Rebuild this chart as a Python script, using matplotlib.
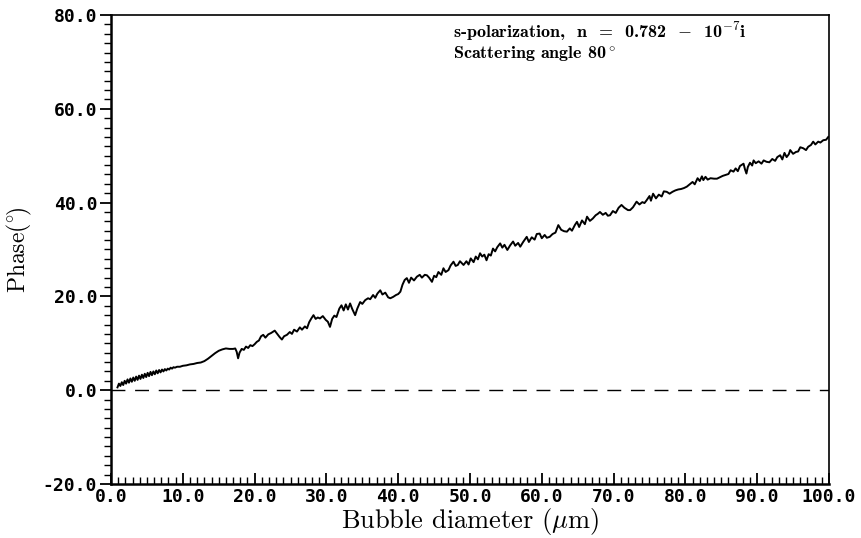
import numpy as np
import matplotlib
matplotlib.use('Agg')
import matplotlib.pyplot as plt
from matplotlib.ticker import MultipleLocator, FormatStrFormatter

# phase curve (bubble diameter in um, phase in degrees)
diameter = [
    0.9, 1.1, 1.3, 1.5, 1.7, 1.9, 2.1, 2.3, 2.5, 2.7, 2.9, 3.1, 3.3, 3.5, 3.7,
    3.9, 4.1, 4.3, 4.5, 4.7, 4.9, 5.1, 5.3, 5.5, 5.7, 5.9, 6.1, 6.3, 6.5, 6.7,
    6.9, 7.1, 7.3, 7.5, 7.7, 7.9, 8.1, 8.3, 8.5, 8.7, 8.9, 9.2, 9.6, 10.0,
    10.5, 11.0, 11.5, 12.0, 12.5, 13.0, 13.5, 14.0, 14.5, 15.0, 15.5, 16.0,
    16.5, 17.0, 17.3, 17.5, 17.7, 17.9, 18.2, 18.5, 18.8, 19.1, 19.4, 19.7,
    20.0, 20.3, 20.6, 20.9, 21.2,
    21.5, 21.9, 22.3, 22.8, 23.2, 23.5, 23.8, 24.1, 24.5, 24.9, 25.2, 25.5,
    25.9, 26.3, 26.6, 27.0, 27.3, 27.6, 27.9, 28.2, 28.5, 28.8, 29.1, 29.5,
    29.9, 30.2, 30.5, 30.8, 31.1, 31.4, 31.8, 32.1, 32.4, 32.7, 33.0, 33.3,
    33.6, 34.0, 34.3, 34.7, 35.0, 35.4, 35.8, 36.1, 36.5, 36.8, 37.1, 37.5,
    37.8, 38.2, 38.6, 38.9, 39.3, 39.7, 40.0, 40.3, 40.6, 40.9, 41.2, 41.5,
    41.8, 42.2, 42.6, 43.0, 43.3, 43.7, 44.0, 44.3, 44.7, 45.0, 45.3, 45.6,
    46.0, 46.3, 46.6, 47.0, 47.3, 47.7, 48.0, 48.3, 48.6, 49.1, 49.5, 49.8,
    50.1, 50.5, 50.8, 51.1, 51.4, 51.7, 52.0, 52.3, 52.6, 52.9, 53.2, 53.5,
    53.8, 54.2, 54.5, 54.8, 55.2, 55.6, 56.0, 56.3, 56.7, 57.0, 57.4, 57.9,
    58.2, 58.6, 59.0, 59.3, 59.7, 60.0, 60.4, 60.7, 61.1, 61.5, 61.9, 62.3,
    62.7, 63.1, 63.5, 63.9, 64.2, 64.6, 64.9, 65.2, 65.6, 66.0, 66.3, 66.7,
    67.1, 67.5, 67.8, 68.1, 68.5, 68.9, 69.2, 69.5, 69.9, 70.3, 70.7, 71.1,
    71.5, 72.0, 72.3,
    72.7, 73.2, 73.6, 74.0, 74.3, 74.6, 75.0, 75.2, 75.5, 75.9, 76.3, 76.7,
    77.0, 77.4, 77.8, 78.2, 78.6, 79.0, 79.4, 79.8, 80.2, 80.6, 81.0, 81.3,
    81.7, 82.0, 82.3, 82.5, 82.8, 83.1, 83.5, 84.0, 84.4, 84.8, 85.2, 85.6,
    86.0, 86.3, 86.7, 87.0, 87.3, 87.6, 88.1, 88.3, 88.5, 88.7, 89.0, 89.3,
    89.5, 89.8, 90.2, 90.6, 90.9, 91.3, 91.7, 92.1, 92.5, 92.8, 93.2, 93.5,
    93.8, 94.1, 94.4, 94.6, 95.0, 95.4, 95.7, 96.0, 96.4, 96.8, 97.1, 97.5,
    97.8, 98.1, 98.5, 98.8, 99.2, 99.6, 99.9,
]
phase = [
    0.6, 1.4, 0.9, 1.7, 1.1, 2.0, 1.4, 2.3, 1.6, 2.5, 1.8, 2.7, 2.0, 2.9, 2.2,
    3.1, 2.4, 3.3, 2.6, 3.5, 2.8, 3.7, 3.0, 3.9, 3.2, 4.0, 3.4, 4.2, 3.6, 4.3,
    3.8, 4.4, 4.0, 4.5, 4.2, 4.6, 4.4, 4.8, 4.6, 4.9, 4.8, 5.0, 5.0, 5.2,
    5.3, 5.5, 5.6, 5.8, 5.9, 6.2, 6.7, 7.3, 7.9, 8.4, 8.7, 8.9,
    8.8, 8.8, 8.9, 8.2, 6.8, 8.0, 8.8, 8.6, 9.3, 9.0, 9.6, 9.4,
    9.8, 10.3, 10.6, 11.5, 11.8,
    11.2, 11.9, 12.2, 12.7, 11.9, 11.3, 10.8, 11.5, 11.8, 12.4, 12.0, 12.9,
    12.5, 13.4, 12.9, 13.6, 13.2, 14.5, 15.3, 16.0, 15.2, 15.5, 15.3, 15.8,
    15.0, 14.6, 13.5, 15.2, 15.9, 15.6, 17.4, 18.1, 17.0, 18.3, 17.2, 18.5,
    17.3, 16.0, 17.4, 18.8, 18.4, 19.2, 19.6, 19.4, 20.3, 19.7, 20.6, 21.3,
    20.4, 20.8, 19.8, 19.6, 19.9, 20.3, 20.5, 21.0, 22.5, 23.5, 23.9, 22.9,
    24.0, 23.4, 24.2, 24.6, 24.0, 24.6, 24.5, 24.0, 23.1, 24.4, 24.1, 25.2,
    24.6, 26.0, 25.2, 25.6, 26.6, 27.4, 26.5, 26.7, 27.5, 26.7, 27.5, 26.8,
    28.1, 27.3, 28.5, 27.9, 29.2, 28.5, 28.9, 27.7, 29.0, 28.7, 30.2, 29.6,
    30.5, 31.3, 30.4, 31.0, 29.9, 30.9, 31.7, 30.8, 31.4, 30.6, 31.6, 32.7,
    31.6, 32.6, 32.1, 33.3, 33.4, 32.4, 33.1, 32.5, 32.7, 33.3, 33.6, 35.2,
    34.2, 33.9, 33.8, 34.5, 34.0, 35.2, 35.9, 34.8, 36.2, 35.4, 37.0, 36.1,
    36.6, 37.3, 37.6, 38.0, 37.4, 37.8, 37.2, 37.3, 38.2, 37.8, 38.9, 39.5,
    38.9, 38.4, 38.4,
    39.0, 40.2, 39.6, 40.1, 39.9, 40.5, 41.4, 40.4, 41.9, 40.9, 41.7, 41.3,
    42.4, 42.3, 41.9, 42.3, 42.6, 42.8, 42.9, 43.1, 43.4, 43.9, 44.4, 43.9,
    45.2, 44.6, 45.6, 44.8, 45.5, 44.9, 45.2, 45.1, 45.1, 45.4, 45.7, 45.9,
    46.1, 46.9, 46.6, 47.3, 46.7, 47.8, 48.3, 47.1, 46.2, 47.6, 48.5, 47.9,
    49.0, 48.4, 48.8, 48.3, 49.0, 48.7, 48.6, 49.3, 48.9, 49.7, 50.1, 49.2,
    50.6, 49.7, 50.3, 51.2, 50.4, 50.8, 50.9, 51.8, 51.6, 51.2, 51.9, 52.3,
    53.0, 52.4, 53.0, 52.8, 53.3, 53.4, 54.0,
]

x_ticks = [0, 10, 20, 30, 40, 50, 60, 70, 80, 90, 100]
y_ticks = [-20, 0, 20, 40, 60, 80]

plt.rcParams['mathtext.fontset'] = 'cm'

fig = plt.figure(figsize=(8.62, 5.38), dpi=100)
ax = fig.add_axes([0.1288, 0.1004, 0.8329, 0.8717])

ax.plot(diameter, phase, color='black', linewidth=1.4)
ax.axhline(0, color='black', linewidth=1.0, linestyle=(0, (10, 7)))

ax.set_xlim(0, 100)
ax.set_ylim(-20, 80)
ax.set_xticks(x_ticks)
ax.set_yticks(y_ticks)
ax.xaxis.set_minor_locator(MultipleLocator(1))
ax.yaxis.set_minor_locator(MultipleLocator(2))
ax.xaxis.set_major_formatter(FormatStrFormatter('%.1f'))
ax.yaxis.set_major_formatter(FormatStrFormatter('%.1f'))

# x ticks point up into the plot, y ticks point out to the left
ax.tick_params(axis='x', which='major', direction='in', length=8, width=1.3, pad=3)
ax.tick_params(axis='x', which='minor', direction='in', length=5, width=1.0)
ax.tick_params(axis='y', which='major', direction='out', length=8, width=1.3, pad=2)
ax.tick_params(axis='y', which='minor', direction='out', length=5, width=1.0)
for lab in ax.get_xticklabels() + ax.get_yticklabels():
    lab.set_family('DejaVu Sans Mono')
    lab.set_fontsize(13)
    lab.set_fontweight('bold')

ax.spines['left'].set_linewidth(1.8)
ax.spines['bottom'].set_linewidth(1.8)
ax.spines['top'].set_linewidth(1.2)
ax.spines['right'].set_linewidth(1.2)

ax.set_xlabel(r'Bubble diameter ($\mu$m)', family='cmr10', fontsize=19, labelpad=0)
ax.set_ylabel(r'Phase$(^{\circ}\!)$', family='cmr10', fontsize=17, labelpad=6)

ax.text(0.476, 0.951, 's-polarization,  n  =  0.782  $-$  10$^{-7}$i',
        transform=ax.transAxes, family='cmb10', fontsize=13, va='baseline')
ax.text(0.476, 0.907, r'Scattering angle 80$^\circ$',
        transform=ax.transAxes, family='cmb10', fontsize=13, va='baseline')

plt.savefig('out.png', dpi=100)
